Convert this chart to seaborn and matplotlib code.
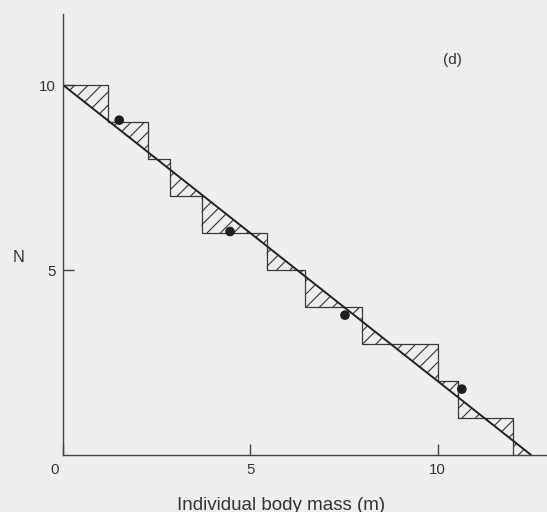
import numpy as np
import matplotlib
matplotlib.use("Agg")
import matplotlib.pyplot as plt
import matplotlib.transforms as mtransforms
import seaborn as sns

# ---- data ----
drop_masses = [1.21, 2.28, 2.86, 3.70, 5.44, 6.46, 7.98, 10.02, 10.56, 12.02]
step_levels = [10, 9, 8, 7, 6, 5, 4, 3, 2, 1, 0]
line_m = [0.0, 12.5]
line_N = [10.0, 0.0]
dot_m = [1.50, 4.46, 7.53, 10.65]
dot_N = [9.05, 6.04, 3.78, 1.78]
x_ticks = [0, 5, 10]
x_tick_labels = ["0", "5", "10"]
y_ticks = [5, 10]
y_tick_labels = ["5", "10"]

DPI = 80
K = 100 / DPI  # keeps sizes equal to a 100-dpi rendering

sns.set_theme(style="ticks")
plt.rcParams["font.family"] = ["Liberation Sans", "DejaVu Sans"]
plt.rcParams["hatch.color"] = "#333333"
plt.rcParams["hatch.linewidth"] = 0.8 * K

bg = "#eeeeee"
ink = "#333333"

fig = plt.figure(figsize=(547 / DPI, 512 / DPI), dpi=DPI, facecolor=bg)
ax = fig.add_axes([63 / 547, 57 / 512, 484 / 547, 441 / 512])
ax.set_facecolor(bg)

# hatched area between the step function and the straight line
edges = [0.0] + drop_masses + [line_m[-1]]
xs, ys = [], []
for i, lev in enumerate(step_levels):
    xs += [edges[i], edges[i + 1]]
    ys += [lev, lev]
xs = np.array(xs)
ys = np.array(ys, dtype=float)
yl = np.interp(xs, line_m, line_N)
ax.fill_between(xs, ys, yl, facecolor="none", edgecolor=ink, hatch="//",
                linewidth=0)

# step outline
step_x = [0.0] + drop_masses
ax.plot(step_x, step_levels, drawstyle="steps-post", color="#3a3a3a", lw=0.9 * K)

# straight line
sns.lineplot(x=line_m, y=line_N, ax=ax, color="#222222", lw=1.4 * K,
             estimator=None, sort=False)

# points
sns.scatterplot(x=dot_m, y=dot_N, ax=ax, color="#1e1e1e", s=48 * K * K,
                edgecolor="none", zorder=5)

ax.set_xlim(0, 484 / 37.45)
ax.set_ylim(0, 441 / 37.0)

for side in ["top", "right"]:
    ax.spines[side].set_visible(False)
for side in ["left", "bottom"]:
    ax.spines[side].set_color("#444444")
    ax.spines[side].set_linewidth(1.0 * K)

ax.set_xticks(x_ticks)
ax.set_xticklabels(x_tick_labels)
ax.set_yticks(y_ticks)
ax.set_yticklabels(y_tick_labels)
ax.tick_params(direction="in", length=8 * K, width=1.0 * K, color="#444444",
               labelsize=10.8 * K, labelcolor=ink, pad=5 * K)
ax.tick_params(axis="x", pad=6 * K)

# shift the "0" label a little to the left, as in the reference
lbl0 = ax.get_xticklabels()[0]
lbl0.set_transform(lbl0.get_transform() +
                   mtransforms.ScaledTranslation(-8 / DPI, 0, fig.dpi_scale_trans))

ax.set_xlabel("Individual body mass (m)", fontsize=13.5 * K, color=ink)
ax.xaxis.set_label_coords((281 - 63) / 484, (455 - 505) / 441)
ax.xaxis.label.set_va("center")

ax.set_ylabel("N", fontsize=11.7 * K, color=ink, rotation=0)
ax.yaxis.set_label_coords((19 - 63) / 484, (455 - 257) / 441)
ax.yaxis.label.set_va("center")
ax.yaxis.label.set_ha("center")

ax.text(10.39, 10.68, "(d)", fontsize=11 * K, color=ink, ha="center", va="center")

fig.savefig("out.png", dpi=DPI, facecolor=bg)
